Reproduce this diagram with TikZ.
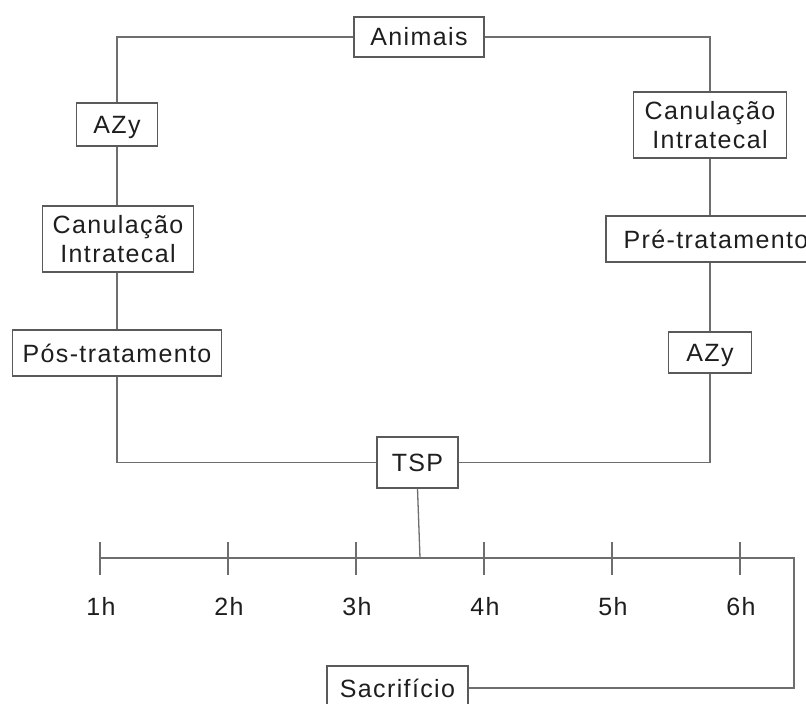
\documentclass[tikz,border=0pt]{standalone}
\usepackage{fontspec}
\setmainfont{Liberation Sans}[LetterSpace=5.5]
\definecolor{linegray}{HTML}{6E6E6E}
\definecolor{boxgray}{HTML}{5A5A5A}
\definecolor{txt}{HTML}{1E1E1E}
\tikzset{
  lbl/.style={font=\fontsize{25bp}{29bp}\selectfont, text=txt, inner sep=0pt},
  stage/.style={lbl, draw=boxgray, line width=1.1bp, text height=18bp, text depth=0pt, align=center},
  stage2/.style={lbl, draw=boxgray, line width=1.1bp, text height=47bp, text depth=0pt, align=center},
  conn/.style={draw=linegray, line width=1.3bp},
  tick/.style={draw=linegray, line width=1.3bp}
}
\begin{document}
\begin{tikzpicture}[x=1bp,y=-1bp]
\clip (0,0) rectangle (806,704);
% boxes
\node[stage, minimum width=130bp, minimum height=40bp] (anim) at (419,37) {Animais};
\node[stage, minimum width=81bp, minimum height=43bp] (azl) at (117,124.5) {AZy};
\node[stage2, minimum width=151bp, minimum height=66bp] (canl) at (118,239) {Canulação\\Intratecal};
\node[stage, minimum width=209bp, minimum height=46bp] (pos) at (117,353) {Pós-tratamento};
\node[stage2, minimum width=153bp, minimum height=66bp] (canr) at (710,125) {Canulação\\Intratecal};
\node[stage, minimum width=220bp, minimum height=46bp] (pre) at (716,239) {Pré-tratamento};
\node[stage, minimum width=83bp, minimum height=41bp] (azr) at (710,352.5) {AZy};
\node[stage, minimum width=81bp, minimum height=51bp] (tsp) at (417.5,462.5) {TSP};
\node[stage, minimum width=141bp, minimum height=44bp] (sac) at (397.5,688) {Sacrifício};
% timeline coordinates
\coordinate (t1) at (100,558);
\coordinate (t2) at (228,558);
\coordinate (t3) at (356,558);
\coordinate (t4) at (484,558);
\coordinate (t5) at (612,558);
\coordinate (t6) at (740,558);
\coordinate (tsj) at (420,558);
\coordinate (tend) at (794,558);
% connectors
\draw[conn] (anim.west) -| (azl.north);
\draw[conn] (azl.south) -- (azl.south |- canl.north);
\draw[conn] (azl.south |- canl.south) -- (azl.south |- pos.north);
\draw[conn] (azl.south |- pos.south) |- (tsp.west);
\draw[conn] (anim.east) -| (canr.north);
\draw[conn] (canr.south) -- (canr.south |- pre.north);
\draw[conn] (canr.south |- pre.south) -- (azr.north);
\draw[conn] (azr.south) |- (tsp.east);
\draw[conn] (tsp.south) -- (tsj);
\draw[conn] (t1) -- (tend) |- (sac.east);
% ticks and labels
\foreach \i/\lab in {1/1h,2/2h,3/3h,4/4h,5/5h,6/6h}{
  \draw[tick] ([yshift=16bp]t\i) -- ([yshift=-17bp]t\i);
  \node[lbl, text height=18bp, text depth=0pt] (h\i) at ([xshift=1bp,yshift=-48bp]t\i) {\lab};
}
\end{tikzpicture}
\end{document}
